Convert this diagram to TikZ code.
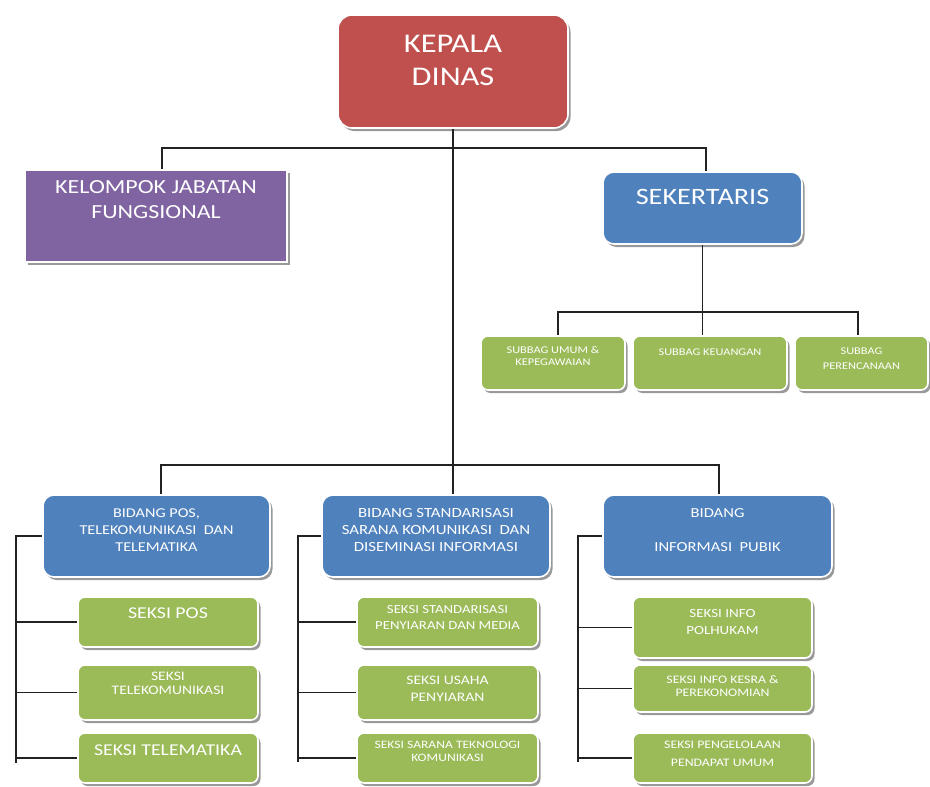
\documentclass[tikz,border=0pt]{standalone}
\usepackage{fontspec}
\setmainfont{Carlito}[FakeStretch=1.2]
\usetikzlibrary{shadows}
\definecolor{cred}{HTML}{C0504D}
\definecolor{cpurple}{HTML}{8064A2}
\definecolor{cblue}{HTML}{4F81BD}
\definecolor{cgreen}{HTML}{9BBB59}
\definecolor{cline}{HTML}{222222}
\newcommand{\fsz}[2]{\fontsize{#1}{#2}\selectfont}
\begin{document}
\begin{tikzpicture}[x=1pt,y=-1pt,
  orgbox/.style={draw=white, line width=1.6pt, inner sep=0pt,
    drop shadow={shadow xshift=2.5pt, shadow yshift=-3pt, opacity=0.4, fill=black}},
  redbox/.style={orgbox, fill=cred, rounded corners=14pt},
  purplebox/.style={orgbox, fill=cpurple},
  bluebox/.style={orgbox, fill=cblue, rounded corners=11pt},
  greenbox/.style={orgbox, fill=cgreen, rounded corners=7pt},
  lbl/.style={text=white, align=center, inner sep=0pt},
  conn/.style={draw=cline, line width=1.4pt}]
\useasboundingbox[fill=white] (0,0) rectangle (930,787);

% ---- boxes ----
\node[redbox, minimum width=230pt, minimum height=113pt] (kd) at (453,71.5) {};
\node[lbl, font=\fsz{27}{33}] (kdt) at (453,60) {KEPALA\\DINAS};

\node[purplebox, minimum width=262pt, minimum height=92pt] (kjf) at (156,216) {};
\node[lbl, font=\fsz{20}{25}] (kjft) at (156,200) {KELOMPOK JABATAN\\FUNGSIONAL};

\node[bluebox, minimum width=199pt, minimum height=72pt] (sek) at (702.5,208) {};
\node[lbl, font=\fsz{23.5}{28}] (sekt) at (702.5,197) {SEKERTARIS};

\node[greenbox, minimum width=144pt, minimum height=54pt] (sub1) at (553,363) {};
\node[lbl, font=\fsz{10.3}{12}] (sub1t) at (553,356) {SUBBAG UMUM \&\\KEPEGAWAIAN};
\node[greenbox, minimum width=154pt, minimum height=54pt] (sub2) at (710,363) {};
\node[lbl, font=\fsz{10.3}{12}] (sub2t) at (710,352) {SUBBAG KEUANGAN};
\node[greenbox, minimum width=133pt, minimum height=54pt] (sub3) at (861.5,363) {};
\node[lbl, font=\fsz{10.3}{15}] (sub3t) at (861.5,358.5) {SUBBAG\\PERENCANAAN};

\node[bluebox, minimum width=227pt, minimum height=82pt] (bpt) at (156.5,536) {};
\node[lbl, font=\fsz{13.5}{17}] (bptt) at (156.5,530) {BIDANG POS,\\TELEKOMUNIKASI~ DAN\\TELEMATIKA};
\node[bluebox, minimum width=228pt, minimum height=82pt] (bss) at (436,536) {};
\node[lbl, font=\fsz{14}{17}] (bsst) at (436,530) {BIDANG STANDARISASI\\SARANA KOMUNIKASI~ DAN\\DISEMINASI INFORMASI};
\node[bluebox, minimum width=229pt, minimum height=82pt] (bip) at (717.5,536) {};
\node[lbl, font=\fsz{13.8}{34}] (bipt) at (717.5,530) {BIDANG\\INFORMASI~ PUBIK};

% left column
\node[greenbox, minimum width=180pt, minimum height=50pt] (sp) at (168,622) {};
\node[lbl, font=\fsz{16.5}{18}] (spt) at (168,613) {SEKSI POS};
\node[greenbox, minimum width=180pt, minimum height=55pt] (stk) at (168,692.5) {};
\node[lbl, font=\fsz{13}{13.5}] (stkt) at (168,683.5) {SEKSI\\TELEKOMUNIKASI};
\node[greenbox, minimum width=180pt, minimum height=50pt] (stm) at (168,758) {};
\node[lbl, font=\fsz{16.5}{18}] (stmt) at (168,750) {SEKSI TELEMATIKA};

% middle column
\node[greenbox, minimum width=181pt, minimum height=50pt] (sst) at (447.5,622) {};
\node[lbl, font=\fsz{12.3}{16}] (sstt) at (447.5,618) {SEKSI STANDARISASI\\PENYIARAN DAN MEDIA};
\node[greenbox, minimum width=181pt, minimum height=55pt] (sup) at (447.5,692.5) {};
\node[lbl, font=\fsz{13}{17}] (supt) at (447.5,688.5) {SEKSI USAHA\\PENYIARAN};
\node[greenbox, minimum width=181pt, minimum height=50pt] (stek) at (447.5,758) {};
\node[lbl, font=\fsz{11.3}{13}] (stekt) at (447.5,751.5) {SEKSI SARANA TEKNOLOGI\\KOMUNIKASI};

% right column
\node[greenbox, minimum width=179pt, minimum height=61pt] (sip) at (722.5,627.5) {};
\node[lbl, font=\fsz{12.5}{17}] (sipt) at (722.5,621.5) {SEKSI INFO\\POLHUKAM};
\node[greenbox, minimum width=179pt, minimum height=47pt] (sik) at (722.5,688.5) {};
\node[lbl, font=\fsz{11.5}{13}] (sikt) at (722.5,686.5) {SEKSI INFO KESRA \&\\PEREKONOMIAN};
\node[greenbox, minimum width=179pt, minimum height=50pt] (spp) at (722.5,758) {};
\node[lbl, font=\fsz{11.5}{18}] (sppt) at (722.5,754) {SEKSI PENGELOLAAN\\PENDAPAT UMUM};

% ---- connectors ----
\coordinate (jk) at (162,148);
\coordinate (js) at (706,148);
\coordinate (s1) at (558,312);
\coordinate (s3) at (858,312);
\coordinate (bl) at (161,465);
\coordinate (br) at (719,465);
\coordinate (lA) at (16,763);
\coordinate (mA) at (298,762);
\coordinate (rA) at (578,762);

\draw[conn] (kd.south) -- (bss.north -| kd.south);
\draw[conn] (kjf.north -| jk) -- (jk) -- (js) -- (sek.north -| js);
\draw[conn] (sek.south) -- (sub2.north -| sek.south);
\draw[conn] (sub1.north -| s1) -- (s1) -- (s3) -- (sub3.north -| s3);
\draw[conn] (bpt.north -| bl) -- (bl) -- (br) -- (bip.north -| br);

\draw[conn] (bpt.west) -- (bpt.west -| lA) -- (lA);
\draw[conn] (sp.west -| lA) -- (sp.west);
\draw[conn] (stk.west -| lA) -- (stk.west);
\draw[conn] (stm.west -| lA) -- (stm.west);

\draw[conn] (bss.west) -- (bss.west -| mA) -- (mA);
\draw[conn] (sst.west -| mA) -- (sst.west);
\draw[conn] (sup.west -| mA) -- (sup.west);
\draw[conn] (stek.west -| mA) -- (stek.west);

\draw[conn] (bip.west) -- (bip.west -| rA) -- (rA);
\draw[conn] (sip.west -| rA) -- (sip.west);
\draw[conn] (sik.west -| rA) -- (sik.west);
\draw[conn] (spp.west -| rA) -- (spp.west);
\end{tikzpicture}
\end{document}
